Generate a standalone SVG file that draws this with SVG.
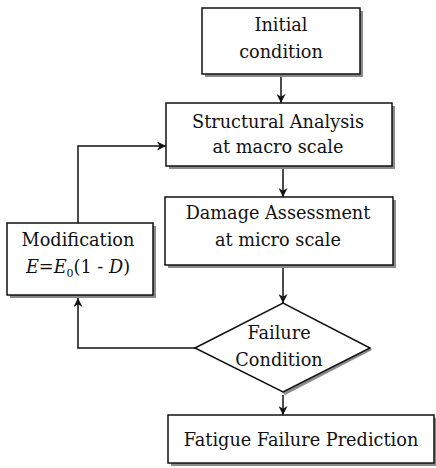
<svg xmlns="http://www.w3.org/2000/svg" width="436" height="468" viewBox="0 0 436 468">
<style>
.box{fill:#fff;stroke:#111;stroke-width:1.5}
.sh{fill:#8a8a8a}
.t{font-family:"DejaVu Serif","Liberation Serif",serif;font-size:17.7px;fill:#111;text-anchor:middle}
.c{fill:none;stroke:#111;stroke-width:1.5}
</style>
<defs>
<marker id="ah" viewBox="0 0 10 10" refX="10" refY="5" markerWidth="9" markerHeight="9" markerUnits="userSpaceOnUse" orient="auto">
<path d="M0,0 L10,5 L0,10 L3,5 Z" fill="#111"/>
</marker>
</defs>
<rect width="436" height="468" fill="#fff"/>
<g id="initial">
<rect class="sh" x="205" y="11" width="158" height="66"/>
<rect class="box" x="202" y="8" width="158" height="66"/>
<text class="t" x="281" y="31">Initial</text>
<text class="t" x="281" y="58">condition</text>
</g>
<g id="structural">
<rect class="sh" x="169" y="106" width="226" height="63"/>
<rect class="box" x="166" y="103" width="226" height="63"/>
<text class="t" x="278" y="128">Structural Analysis</text>
<text class="t" x="278" y="153">at macro scale</text>
</g>
<g id="damage">
<rect class="sh" x="168" y="200" width="228" height="68"/>
<rect class="box" x="165" y="197" width="228" height="68"/>
<text class="t" x="278" y="219">Damage Assessment</text>
<text class="t" x="278" y="246">at micro scale</text>
</g>
<g id="modification">
<rect class="sh" x="10" y="226" width="146" height="72"/>
<rect class="box" x="7" y="223" width="146" height="72"/>
<text class="t" x="78" y="246">Modification</text>
<text class="t" x="78" y="273"><tspan font-style="italic">E</tspan>=<tspan font-style="italic">E</tspan><tspan font-size="11" dy="4">0</tspan><tspan dy="-4">(1 - </tspan><tspan font-style="italic">D</tspan>)</text>
</g>
<g id="failure">
<polygon class="sh" points="372,350 285,395 281,391 368,346"/>
<polygon class="box" points="195,348 283,303 370,348 283,392"/>
<text class="t" x="279" y="339">Failure</text>
<text class="t" x="279" y="366">Condition</text>
</g>
<g id="prediction">
<rect class="sh" x="171" y="418" width="266" height="48"/>
<rect class="box" x="168" y="415" width="266" height="48"/>
<text class="t" x="301" y="446">Fatigue Failure Prediction</text>
</g>
<g id="connectors">
<path class="c" d="M281,77 V103" marker-end="url(#ah)"/>
<path class="c" d="M283,169 V197" marker-end="url(#ah)"/>
<path class="c" d="M283,268 V303" marker-end="url(#ah)"/>
<path class="c" d="M283,395 V415" marker-end="url(#ah)"/>
<path class="c" d="M195,348 H78 V298" marker-end="url(#ah)"/>
<path class="c" d="M78,223 V146 H166" marker-end="url(#ah)"/>
</g>
</svg>
